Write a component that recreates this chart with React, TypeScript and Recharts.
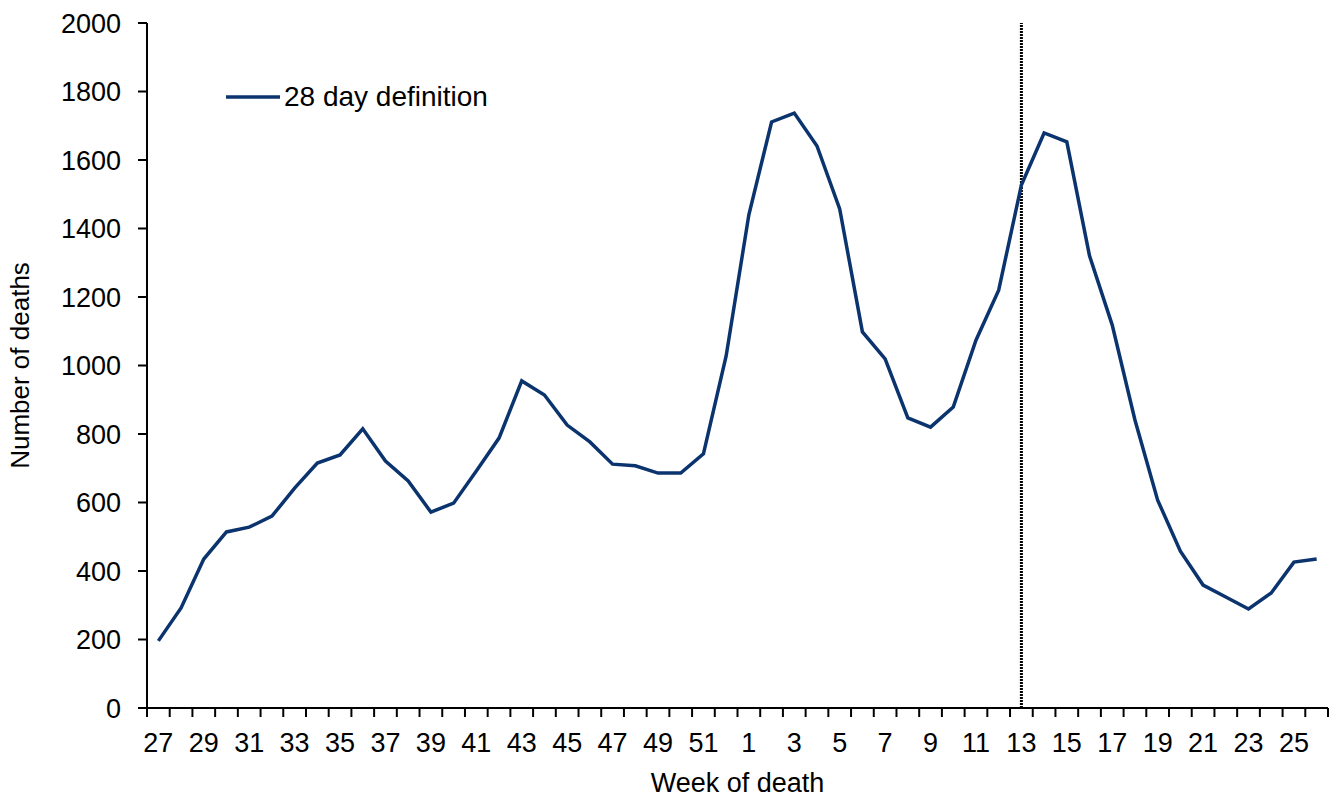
import React from "react";
import { LineChart, Line, XAxis, YAxis, ReferenceLine } from "recharts";

const weeks = [
  "27", "28", "29", "30", "31", "32", "33", "34", "35", "36", "37", "38", "39",
  "40", "41", "42", "43", "44", "45", "46", "47", "48", "49", "50", "51", "52",
  "1", "2", "3", "4", "5", "6", "7", "8", "9", "10", "11", "12", "13",
  "14", "15", "16", "17", "18", "19", "20", "21", "22", "23", "24", "25", "26",
];

const deaths28 = [
  196, 292, 435, 514, 528, 560, 642, 715, 739, 815, 721, 663, 572,
  598, 692, 788, 955, 914, 826, 777, 712, 707, 686, 686, 742, 1028,
  1440, 1711, 1737, 1641, 1457, 1098, 1019, 847, 820, 879, 1074, 1220, 1527,
  1679, 1653, 1320, 1118, 841, 607, 458, 359, 324, 289, 336, 426, 435,
];

const yTicks = [0, 200, 400, 600, 800, 1000, 1200, 1400, 1600, 1800, 2000];
const markerWeek = "13";
const seriesName = "28 day definition";

const W = 1340;
const H = 799;
const LEFT = 147;
const RIGHT = 12;
const BAND = (W - LEFT - RIGHT) / weeks.length;
const NAVY = "#0b346e";
const FONT = 27;

const data = weeks.map((week, i) => ({ week, deaths: deaths28[i] }));

// tick marks sit between the weeks, labels on every other week
function WeekTick(props: any) {
  const { x, y, index, payload } = props;
  const last = index === weeks.length - 1;
  return (
    <g>
      <line x1={x - BAND / 2} x2={x - BAND / 2} y1={y} y2={y + 9} stroke="#000" strokeWidth={2} />
      {last && <line x1={x + BAND / 2} x2={x + BAND / 2} y1={y} y2={y + 9} stroke="#000" strokeWidth={2} />}
      {index % 2 === 0 && (
        <text x={x} y={y + 44} textAnchor="middle" fontSize={FONT} fill="#000">
          {payload.value}
        </text>
      )}
    </g>
  );
}

export default function App() {
  return (
    <div
      style={{
        position: "absolute",
        left: 0,
        top: 0,
        width: W,
        height: H,
        background: "#fff",
        fontFamily: "'Liberation Sans', Arial, sans-serif",
      }}
    >
      <LineChart width={W} height={H} data={data} margin={{ top: 23, right: RIGHT, bottom: 0, left: 0 }}>
        <XAxis
          dataKey="week"
          type="category"
          interval={0}
          height={91}
          padding={{ left: BAND / 2, right: BAND / 2 }}
          tickSize={0}
          tickMargin={0}
          tickLine={false}
          axisLine={{ stroke: "#000", strokeWidth: 2 }}
          tick={<WeekTick />}
          label={{
            content: (p: any) => {
              const vb = p.viewBox;
              return (
                <text x={vb.x + vb.width / 2} y={vb.y + 84} textAnchor="middle" fontSize={27} fill="#000">
                  Week of death
                </text>
              );
            },
          }}
        />
        <YAxis
          width={LEFT}
          domain={[0, 2000]}
          ticks={yTicks}
          interval={0}
          tickSize={9}
          tickMargin={17}
          axisLine={{ stroke: "#000", strokeWidth: 2 }}
          tickLine={{ stroke: "#000", strokeWidth: 2 }}
          tick={{ fontSize: FONT, fill: "#000" }}
          label={{
            content: (p: any) => {
              const vb = p.viewBox;
              const cy = vb.y + vb.height / 2;
              return (
                <text x={29} y={cy} transform={`rotate(-90 29 ${cy})`} textAnchor="middle" fontSize={26} fill="#000">
                  Number of deaths
                </text>
              );
            },
          }}
        />
        <ReferenceLine x={markerWeek} stroke="#000" strokeWidth={3} strokeDasharray="2 1" />
        <Line
          type="linear"
          dataKey="deaths"
          name={seriesName}
          stroke={NAVY}
          strokeWidth={3.5}
          dot={false}
          isAnimationActive={false}
        />
      </LineChart>
      <svg width={W} height={H} style={{ position: "absolute", left: 0, top: 0, pointerEvents: "none" }}>
        <line x1={226} x2={280} y1={97} y2={97} stroke={NAVY} strokeWidth={3.5} />
        <text x={284} y={106} fontSize={28} fill="#000">
          {seriesName}
        </text>
      </svg>
    </div>
  );
}
